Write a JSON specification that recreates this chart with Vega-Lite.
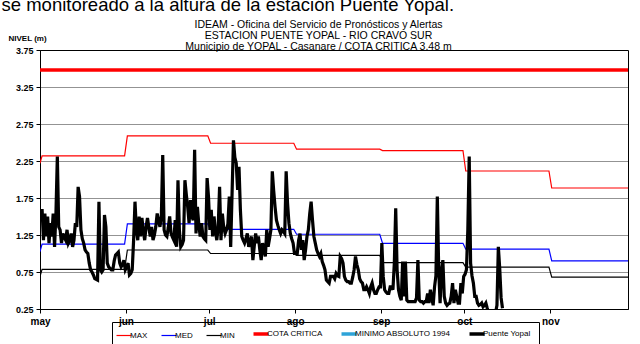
{
  "$schema": "https://vega.github.io/schema/vega-lite/v6.json",
  "autosize": "none",
  "width": 588,
  "height": 259,
  "padding": {"left": 40, "top": 50, "right": 12, "bottom": 35},
  "background": "white",
  "title": {
    "text": ["IDEAM - Oficina del Servicio de Pronósticos y Alertas", "ESTACION PUENTE YOPAL - RIO CRAVO SUR"],
    "subtitle": "Municipio de YOPAL - Casanare  /  COTA CRITICA 3.48 m",
    "fontSize": 10.5, "fontWeight": "normal", "subtitleFontSize": 10.5, "subtitleColor": "black",
    "lineHeight": 11, "subtitleLineHeight": 11, "subtitlePadding": 1,
    "anchor": "middle", "frame": "bounds", "offset": -57.5, "dx": 4, "color": "black"
  },
  "datasets": {
    "referencias": [
      {"fecha": "2011-05-01T00:00", "serie": "MAX", "nivel": 2.22},
      {"fecha": "2011-05-01T18:00", "serie": "MAX", "nivel": 2.32},
      {"fecha": "2011-05-31T12:00", "serie": "MAX", "nivel": 2.32},
      {"fecha": "2011-06-01T12:00", "serie": "MAX", "nivel": 2.59},
      {"fecha": "2011-06-30T12:00", "serie": "MAX", "nivel": 2.59},
      {"fecha": "2011-07-01T12:00", "serie": "MAX", "nivel": 2.49},
      {"fecha": "2011-07-31T12:00", "serie": "MAX", "nivel": 2.49},
      {"fecha": "2011-08-01T12:00", "serie": "MAX", "nivel": 2.41},
      {"fecha": "2011-08-31T12:00", "serie": "MAX", "nivel": 2.41},
      {"fecha": "2011-09-01T12:00", "serie": "MAX", "nivel": 2.39},
      {"fecha": "2011-09-30T12:00", "serie": "MAX", "nivel": 2.39},
      {"fecha": "2011-10-01T12:00", "serie": "MAX", "nivel": 2.115},
      {"fecha": "2011-10-31T12:00", "serie": "MAX", "nivel": 2.115},
      {"fecha": "2011-11-01T12:00", "serie": "MAX", "nivel": 1.885},
      {"fecha": "2011-11-29T00:00", "serie": "MAX", "nivel": 1.885},
      {"fecha": "2011-05-01T00:00", "serie": "MED", "nivel": 1.025},
      {"fecha": "2011-05-01T18:00", "serie": "MED", "nivel": 1.128},
      {"fecha": "2011-05-31T12:00", "serie": "MED", "nivel": 1.128},
      {"fecha": "2011-06-01T12:00", "serie": "MED", "nivel": 1.40},
      {"fecha": "2011-06-30T12:00", "serie": "MED", "nivel": 1.40},
      {"fecha": "2011-07-01T12:00", "serie": "MED", "nivel": 1.327},
      {"fecha": "2011-07-31T12:00", "serie": "MED", "nivel": 1.327},
      {"fecha": "2011-08-01T12:00", "serie": "MED", "nivel": 1.26},
      {"fecha": "2011-08-31T12:00", "serie": "MED", "nivel": 1.26},
      {"fecha": "2011-09-01T12:00", "serie": "MED", "nivel": 1.138},
      {"fecha": "2011-09-30T12:00", "serie": "MED", "nivel": 1.138},
      {"fecha": "2011-10-01T12:00", "serie": "MED", "nivel": 1.06},
      {"fecha": "2011-10-31T12:00", "serie": "MED", "nivel": 1.06},
      {"fecha": "2011-11-01T12:00", "serie": "MED", "nivel": 0.90},
      {"fecha": "2011-11-29T00:00", "serie": "MED", "nivel": 0.90},
      {"fecha": "2011-05-01T00:00", "serie": "MIN", "nivel": 0.69},
      {"fecha": "2011-05-01T18:00", "serie": "MIN", "nivel": 0.786},
      {"fecha": "2011-05-31T12:00", "serie": "MIN", "nivel": 0.786},
      {"fecha": "2011-06-01T12:00", "serie": "MIN", "nivel": 1.047},
      {"fecha": "2011-06-30T12:00", "serie": "MIN", "nivel": 1.047},
      {"fecha": "2011-07-01T12:00", "serie": "MIN", "nivel": 1.00},
      {"fecha": "2011-07-31T12:00", "serie": "MIN", "nivel": 1.00},
      {"fecha": "2011-08-01T12:00", "serie": "MIN", "nivel": 0.975},
      {"fecha": "2011-08-31T12:00", "serie": "MIN", "nivel": 0.975},
      {"fecha": "2011-09-01T12:00", "serie": "MIN", "nivel": 0.876},
      {"fecha": "2011-09-30T12:00", "serie": "MIN", "nivel": 0.876},
      {"fecha": "2011-10-01T12:00", "serie": "MIN", "nivel": 0.817},
      {"fecha": "2011-10-31T12:00", "serie": "MIN", "nivel": 0.817},
      {"fecha": "2011-11-01T12:00", "serie": "MIN", "nivel": 0.68},
      {"fecha": "2011-11-29T00:00", "serie": "MIN", "nivel": 0.68},
      {"fecha": "2011-05-01T00:00", "serie": "COTA CRITICA", "nivel": 3.48},
      {"fecha": "2011-11-29T00:00", "serie": "COTA CRITICA", "nivel": 3.48}
    ],
    "niveles": [
      {"fecha": "2011-05-01T06:00", "nivel": 1.45}, {"fecha": "2011-05-01T18:00", "nivel": 1.60},
      {"fecha": "2011-05-02T06:00", "nivel": 1.18}, {"fecha": "2011-05-02T18:00", "nivel": 1.54},
      {"fecha": "2011-05-03T06:00", "nivel": 1.23}, {"fecha": "2011-05-03T18:00", "nivel": 1.50},
      {"fecha": "2011-05-04T06:00", "nivel": 1.14}, {"fecha": "2011-05-04T18:00", "nivel": 1.41},
      {"fecha": "2011-05-05T06:00", "nivel": 1.23}, {"fecha": "2011-05-05T18:00", "nivel": 1.54},
      {"fecha": "2011-05-06T06:00", "nivel": 1.09}, {"fecha": "2011-05-06T18:00", "nivel": 1.54},
      {"fecha": "2011-05-07T06:00", "nivel": 2.31}, {"fecha": "2011-05-07T18:00", "nivel": 1.36},
      {"fecha": "2011-05-08T06:00", "nivel": 1.32}, {"fecha": "2011-05-08T18:00", "nivel": 1.14},
      {"fecha": "2011-05-09T06:00", "nivel": 1.27}, {"fecha": "2011-05-09T18:00", "nivel": 1.22},
      {"fecha": "2011-05-10T06:00", "nivel": 1.18}, {"fecha": "2011-05-10T18:00", "nivel": 1.32},
      {"fecha": "2011-05-11T06:00", "nivel": 1.14}, {"fecha": "2011-05-11T18:00", "nivel": 1.18},
      {"fecha": "2011-05-12T06:00", "nivel": 1.27}, {"fecha": "2011-05-12T18:00", "nivel": 1.09},
      {"fecha": "2011-05-13T06:00", "nivel": 1.18}, {"fecha": "2011-05-13T18:00", "nivel": 1.41},
      {"fecha": "2011-05-14T06:00", "nivel": 1.36}, {"fecha": "2011-05-14T18:00", "nivel": 1.90},
      {"fecha": "2011-05-15T06:00", "nivel": 1.77}, {"fecha": "2011-05-15T18:00", "nivel": 1.32},
      {"fecha": "2011-05-16T06:00", "nivel": 1.20}, {"fecha": "2011-05-16T18:00", "nivel": 1.14},
      {"fecha": "2011-05-17T06:00", "nivel": 1.05}, {"fecha": "2011-05-17T18:00", "nivel": 1.02},
      {"fecha": "2011-05-18T06:00", "nivel": 1.00}, {"fecha": "2011-05-18T18:00", "nivel": 0.87},
      {"fecha": "2011-05-19T06:00", "nivel": 0.78}, {"fecha": "2011-05-19T18:00", "nivel": 0.75},
      {"fecha": "2011-05-20T06:00", "nivel": 0.71}, {"fecha": "2011-05-20T18:00", "nivel": 0.66},
      {"fecha": "2011-05-21T06:00", "nivel": 0.65}, {"fecha": "2011-05-21T18:00", "nivel": 0.64},
      {"fecha": "2011-05-22T06:00", "nivel": 1.70}, {"fecha": "2011-05-22T18:00", "nivel": 0.78},
      {"fecha": "2011-05-23T06:00", "nivel": 0.75}, {"fecha": "2011-05-23T18:00", "nivel": 0.78},
      {"fecha": "2011-05-24T06:00", "nivel": 1.52}, {"fecha": "2011-05-24T18:00", "nivel": 1.36},
      {"fecha": "2011-05-25T06:00", "nivel": 0.87}, {"fecha": "2011-05-25T18:00", "nivel": 0.82},
      {"fecha": "2011-05-26T06:00", "nivel": 0.80}, {"fecha": "2011-05-26T18:00", "nivel": 0.78},
      {"fecha": "2011-05-27T06:00", "nivel": 0.78}, {"fecha": "2011-05-27T18:00", "nivel": 0.90},
      {"fecha": "2011-05-28T06:00", "nivel": 0.98}, {"fecha": "2011-05-28T18:00", "nivel": 1.00},
      {"fecha": "2011-05-29T06:00", "nivel": 1.02}, {"fecha": "2011-05-29T18:00", "nivel": 0.87},
      {"fecha": "2011-05-30T06:00", "nivel": 0.82}, {"fecha": "2011-05-30T18:00", "nivel": 0.85},
      {"fecha": "2011-05-31T06:00", "nivel": 0.91}, {"fecha": "2011-05-31T18:00", "nivel": 0.78},
      {"fecha": "2011-06-01T06:00", "nivel": 0.82}, {"fecha": "2011-06-01T18:00", "nivel": 0.87},
      {"fecha": "2011-06-02T06:00", "nivel": 0.71}, {"fecha": "2011-06-02T18:00", "nivel": 0.73},
      {"fecha": "2011-06-03T06:00", "nivel": 0.78}, {"fecha": "2011-06-03T18:00", "nivel": 1.18},
      {"fecha": "2011-06-04T06:00", "nivel": 1.70}, {"fecha": "2011-06-04T18:00", "nivel": 1.32},
      {"fecha": "2011-06-05T06:00", "nivel": 1.18}, {"fecha": "2011-06-05T18:00", "nivel": 1.50},
      {"fecha": "2011-06-06T06:00", "nivel": 1.23}, {"fecha": "2011-06-06T18:00", "nivel": 1.48},
      {"fecha": "2011-06-07T06:00", "nivel": 1.30}, {"fecha": "2011-06-07T18:00", "nivel": 1.18},
      {"fecha": "2011-06-08T06:00", "nivel": 1.36}, {"fecha": "2011-06-08T18:00", "nivel": 1.48},
      {"fecha": "2011-06-09T06:00", "nivel": 1.35}, {"fecha": "2011-06-09T18:00", "nivel": 1.23},
      {"fecha": "2011-06-10T06:00", "nivel": 1.36}, {"fecha": "2011-06-10T18:00", "nivel": 1.18},
      {"fecha": "2011-06-11T06:00", "nivel": 1.25}, {"fecha": "2011-06-11T18:00", "nivel": 1.36},
      {"fecha": "2011-06-12T06:00", "nivel": 1.54}, {"fecha": "2011-06-12T18:00", "nivel": 1.45},
      {"fecha": "2011-06-13T06:00", "nivel": 1.36}, {"fecha": "2011-06-13T18:00", "nivel": 1.50},
      {"fecha": "2011-06-14T06:00", "nivel": 2.33}, {"fecha": "2011-06-14T18:00", "nivel": 1.32},
      {"fecha": "2011-06-15T06:00", "nivel": 1.25}, {"fecha": "2011-06-15T18:00", "nivel": 1.23},
      {"fecha": "2011-06-16T06:00", "nivel": 1.35}, {"fecha": "2011-06-16T18:00", "nivel": 1.50},
      {"fecha": "2011-06-17T06:00", "nivel": 1.27}, {"fecha": "2011-06-17T18:00", "nivel": 1.22},
      {"fecha": "2011-06-18T06:00", "nivel": 1.18}, {"fecha": "2011-06-18T18:00", "nivel": 1.45},
      {"fecha": "2011-06-19T06:00", "nivel": 1.09}, {"fecha": "2011-06-19T18:00", "nivel": 1.99},
      {"fecha": "2011-06-20T06:00", "nivel": 1.32}, {"fecha": "2011-06-20T18:00", "nivel": 1.09},
      {"fecha": "2011-06-21T06:00", "nivel": 1.12}, {"fecha": "2011-06-21T18:00", "nivel": 1.18},
      {"fecha": "2011-06-22T06:00", "nivel": 1.99}, {"fecha": "2011-06-22T18:00", "nivel": 1.80},
      {"fecha": "2011-06-23T06:00", "nivel": 1.63}, {"fecha": "2011-06-23T18:00", "nivel": 1.41},
      {"fecha": "2011-06-24T06:00", "nivel": 1.72}, {"fecha": "2011-06-24T18:00", "nivel": 1.50},
      {"fecha": "2011-06-25T06:00", "nivel": 1.45}, {"fecha": "2011-06-25T18:00", "nivel": 2.40},
      {"fecha": "2011-06-26T06:00", "nivel": 1.27}, {"fecha": "2011-06-26T18:00", "nivel": 1.63},
      {"fecha": "2011-06-27T06:00", "nivel": 1.40}, {"fecha": "2011-06-27T18:00", "nivel": 1.23},
      {"fecha": "2011-06-28T06:00", "nivel": 1.41}, {"fecha": "2011-06-28T18:00", "nivel": 1.23},
      {"fecha": "2011-06-29T06:00", "nivel": 1.20}, {"fecha": "2011-06-29T18:00", "nivel": 1.18},
      {"fecha": "2011-06-30T06:00", "nivel": 2.02}, {"fecha": "2011-06-30T18:00", "nivel": 1.77},
      {"fecha": "2011-07-01T06:00", "nivel": 1.32}, {"fecha": "2011-07-01T18:00", "nivel": 1.59},
      {"fecha": "2011-07-02T06:00", "nivel": 1.23}, {"fecha": "2011-07-02T18:00", "nivel": 1.50},
      {"fecha": "2011-07-03T06:00", "nivel": 1.30}, {"fecha": "2011-07-03T18:00", "nivel": 1.18},
      {"fecha": "2011-07-04T06:00", "nivel": 1.36}, {"fecha": "2011-07-04T18:00", "nivel": 1.90},
      {"fecha": "2011-07-05T06:00", "nivel": 1.18}, {"fecha": "2011-07-05T18:00", "nivel": 1.54},
      {"fecha": "2011-07-06T06:00", "nivel": 1.35}, {"fecha": "2011-07-06T18:00", "nivel": 1.27},
      {"fecha": "2011-07-07T06:00", "nivel": 1.32}, {"fecha": "2011-07-07T18:00", "nivel": 1.40},
      {"fecha": "2011-07-08T06:00", "nivel": 1.77}, {"fecha": "2011-07-08T18:00", "nivel": 1.09},
      {"fecha": "2011-07-09T06:00", "nivel": 1.81}, {"fecha": "2011-07-09T18:00", "nivel": 2.53},
      {"fecha": "2011-07-10T06:00", "nivel": 2.30}, {"fecha": "2011-07-10T18:00", "nivel": 2.22},
      {"fecha": "2011-07-11T06:00", "nivel": 1.86}, {"fecha": "2011-07-11T18:00", "nivel": 2.17},
      {"fecha": "2011-07-12T06:00", "nivel": 1.59}, {"fecha": "2011-07-12T18:00", "nivel": 1.23},
      {"fecha": "2011-07-13T06:00", "nivel": 1.18}, {"fecha": "2011-07-13T18:00", "nivel": 1.14},
      {"fecha": "2011-07-14T06:00", "nivel": 1.20}, {"fecha": "2011-07-14T18:00", "nivel": 1.27},
      {"fecha": "2011-07-15T06:00", "nivel": 1.09}, {"fecha": "2011-07-15T18:00", "nivel": 1.15},
      {"fecha": "2011-07-16T06:00", "nivel": 1.23}, {"fecha": "2011-07-16T18:00", "nivel": 0.91},
      {"fecha": "2011-07-17T06:00", "nivel": 1.10}, {"fecha": "2011-07-17T18:00", "nivel": 1.27},
      {"fecha": "2011-07-18T06:00", "nivel": 1.14}, {"fecha": "2011-07-18T18:00", "nivel": 1.23},
      {"fecha": "2011-07-19T06:00", "nivel": 1.05}, {"fecha": "2011-07-19T18:00", "nivel": 0.91},
      {"fecha": "2011-07-20T06:00", "nivel": 1.14}, {"fecha": "2011-07-20T18:00", "nivel": 1.05},
      {"fecha": "2011-07-21T06:00", "nivel": 0.96}, {"fecha": "2011-07-21T18:00", "nivel": 1.32},
      {"fecha": "2011-07-22T06:00", "nivel": 1.09}, {"fecha": "2011-07-22T18:00", "nivel": 1.20},
      {"fecha": "2011-07-23T06:00", "nivel": 1.32}, {"fecha": "2011-07-23T18:00", "nivel": 2.11},
      {"fecha": "2011-07-24T06:00", "nivel": 1.85}, {"fecha": "2011-07-24T18:00", "nivel": 1.63},
      {"fecha": "2011-07-25T06:00", "nivel": 1.45}, {"fecha": "2011-07-25T18:00", "nivel": 1.38},
      {"fecha": "2011-07-26T06:00", "nivel": 1.32}, {"fecha": "2011-07-26T18:00", "nivel": 1.27},
      {"fecha": "2011-07-27T06:00", "nivel": 1.32}, {"fecha": "2011-07-27T18:00", "nivel": 1.30},
      {"fecha": "2011-07-28T06:00", "nivel": 1.27}, {"fecha": "2011-07-28T18:00", "nivel": 2.11},
      {"fecha": "2011-07-29T06:00", "nivel": 1.68}, {"fecha": "2011-07-29T18:00", "nivel": 1.41},
      {"fecha": "2011-07-30T06:00", "nivel": 1.27}, {"fecha": "2011-07-30T18:00", "nivel": 1.20},
      {"fecha": "2011-07-31T06:00", "nivel": 1.14}, {"fecha": "2011-07-31T18:00", "nivel": 1.00},
      {"fecha": "2011-08-01T06:00", "nivel": 1.00}, {"fecha": "2011-08-01T18:00", "nivel": 1.00},
      {"fecha": "2011-08-02T06:00", "nivel": 1.18}, {"fecha": "2011-08-02T18:00", "nivel": 1.27},
      {"fecha": "2011-08-03T06:00", "nivel": 1.05}, {"fecha": "2011-08-03T18:00", "nivel": 1.18},
      {"fecha": "2011-08-04T06:00", "nivel": 0.91}, {"fecha": "2011-08-04T18:00", "nivel": 1.05},
      {"fecha": "2011-08-05T06:00", "nivel": 1.23}, {"fecha": "2011-08-05T18:00", "nivel": 1.32},
      {"fecha": "2011-08-06T06:00", "nivel": 1.54}, {"fecha": "2011-08-06T18:00", "nivel": 1.70},
      {"fecha": "2011-08-07T06:00", "nivel": 1.45}, {"fecha": "2011-08-07T18:00", "nivel": 1.23},
      {"fecha": "2011-08-08T06:00", "nivel": 1.14}, {"fecha": "2011-08-08T18:00", "nivel": 1.05},
      {"fecha": "2011-08-09T06:00", "nivel": 1.00}, {"fecha": "2011-08-09T18:00", "nivel": 0.96},
      {"fecha": "2011-08-10T06:00", "nivel": 1.00}, {"fecha": "2011-08-10T18:00", "nivel": 0.89},
      {"fecha": "2011-08-11T06:00", "nivel": 0.84}, {"fecha": "2011-08-11T18:00", "nivel": 0.78},
      {"fecha": "2011-08-12T06:00", "nivel": 0.64}, {"fecha": "2011-08-12T18:00", "nivel": 0.62},
      {"fecha": "2011-08-13T06:00", "nivel": 0.60}, {"fecha": "2011-08-13T18:00", "nivel": 0.69},
      {"fecha": "2011-08-14T06:00", "nivel": 0.69}, {"fecha": "2011-08-14T18:00", "nivel": 0.69},
      {"fecha": "2011-08-15T06:00", "nivel": 0.66}, {"fecha": "2011-08-15T18:00", "nivel": 0.73},
      {"fecha": "2011-08-16T06:00", "nivel": 0.70}, {"fecha": "2011-08-16T18:00", "nivel": 0.69},
      {"fecha": "2011-08-17T06:00", "nivel": 0.96}, {"fecha": "2011-08-17T18:00", "nivel": 0.93},
      {"fecha": "2011-08-18T06:00", "nivel": 0.87}, {"fecha": "2011-08-18T18:00", "nivel": 0.69},
      {"fecha": "2011-08-19T06:00", "nivel": 0.64}, {"fecha": "2011-08-19T18:00", "nivel": 0.62},
      {"fecha": "2011-08-20T06:00", "nivel": 0.62}, {"fecha": "2011-08-20T18:00", "nivel": 0.60},
      {"fecha": "2011-08-21T06:00", "nivel": 0.60}, {"fecha": "2011-08-21T18:00", "nivel": 0.68},
      {"fecha": "2011-08-22T06:00", "nivel": 0.78}, {"fecha": "2011-08-22T18:00", "nivel": 0.96},
      {"fecha": "2011-08-23T06:00", "nivel": 0.85}, {"fecha": "2011-08-23T18:00", "nivel": 0.78},
      {"fecha": "2011-08-24T06:00", "nivel": 0.66}, {"fecha": "2011-08-24T18:00", "nivel": 0.62},
      {"fecha": "2011-08-25T06:00", "nivel": 0.60}, {"fecha": "2011-08-25T18:00", "nivel": 0.51},
      {"fecha": "2011-08-26T06:00", "nivel": 0.51}, {"fecha": "2011-08-26T18:00", "nivel": 0.55},
      {"fecha": "2011-08-27T06:00", "nivel": 0.51}, {"fecha": "2011-08-27T18:00", "nivel": 0.46},
      {"fecha": "2011-08-28T06:00", "nivel": 0.55}, {"fecha": "2011-08-28T18:00", "nivel": 0.60},
      {"fecha": "2011-08-29T06:00", "nivel": 0.51}, {"fecha": "2011-08-29T18:00", "nivel": 0.46},
      {"fecha": "2011-08-30T06:00", "nivel": 0.46}, {"fecha": "2011-08-30T18:00", "nivel": 0.51},
      {"fecha": "2011-08-31T06:00", "nivel": 0.55}, {"fecha": "2011-08-31T18:00", "nivel": 0.55},
      {"fecha": "2011-09-01T06:00", "nivel": 1.14}, {"fecha": "2011-09-01T18:00", "nivel": 0.69},
      {"fecha": "2011-09-02T06:00", "nivel": 0.51}, {"fecha": "2011-09-02T18:00", "nivel": 0.48},
      {"fecha": "2011-09-03T06:00", "nivel": 0.46}, {"fecha": "2011-09-03T18:00", "nivel": 0.46},
      {"fecha": "2011-09-04T06:00", "nivel": 0.55}, {"fecha": "2011-09-04T18:00", "nivel": 0.55},
      {"fecha": "2011-09-05T06:00", "nivel": 0.51}, {"fecha": "2011-09-05T18:00", "nivel": 0.87},
      {"fecha": "2011-09-06T06:00", "nivel": 1.61}, {"fecha": "2011-09-06T18:00", "nivel": 0.78},
      {"fecha": "2011-09-07T06:00", "nivel": 0.51}, {"fecha": "2011-09-07T18:00", "nivel": 0.42},
      {"fecha": "2011-09-08T06:00", "nivel": 0.37}, {"fecha": "2011-09-08T18:00", "nivel": 0.89},
      {"fecha": "2011-09-09T06:00", "nivel": 0.42}, {"fecha": "2011-09-09T18:00", "nivel": 0.89},
      {"fecha": "2011-09-10T06:00", "nivel": 0.37}, {"fecha": "2011-09-10T18:00", "nivel": 0.35},
      {"fecha": "2011-09-11T06:00", "nivel": 0.35}, {"fecha": "2011-09-11T18:00", "nivel": 0.35},
      {"fecha": "2011-09-12T06:00", "nivel": 0.35}, {"fecha": "2011-09-12T18:00", "nivel": 0.35},
      {"fecha": "2011-09-13T06:00", "nivel": 0.35}, {"fecha": "2011-09-13T18:00", "nivel": 0.40},
      {"fecha": "2011-09-14T06:00", "nivel": 0.91}, {"fecha": "2011-09-14T18:00", "nivel": 0.37},
      {"fecha": "2011-09-15T06:00", "nivel": 0.35}, {"fecha": "2011-09-15T18:00", "nivel": 0.35},
      {"fecha": "2011-09-16T06:00", "nivel": 0.33}, {"fecha": "2011-09-16T18:00", "nivel": 0.35},
      {"fecha": "2011-09-17T06:00", "nivel": 0.35}, {"fecha": "2011-09-17T18:00", "nivel": 0.46},
      {"fecha": "2011-09-18T06:00", "nivel": 0.33}, {"fecha": "2011-09-18T18:00", "nivel": 0.51},
      {"fecha": "2011-09-19T06:00", "nivel": 0.40}, {"fecha": "2011-09-19T18:00", "nivel": 0.30},
      {"fecha": "2011-09-20T06:00", "nivel": 0.55}, {"fecha": "2011-09-20T18:00", "nivel": 0.70},
      {"fecha": "2011-09-21T06:00", "nivel": 1.77}, {"fecha": "2011-09-21T18:00", "nivel": 0.78},
      {"fecha": "2011-09-22T06:00", "nivel": 0.33}, {"fecha": "2011-09-22T18:00", "nivel": 0.78},
      {"fecha": "2011-09-23T06:00", "nivel": 0.91}, {"fecha": "2011-09-23T18:00", "nivel": 0.42},
      {"fecha": "2011-09-24T06:00", "nivel": 0.33}, {"fecha": "2011-09-24T18:00", "nivel": 0.30},
      {"fecha": "2011-09-25T06:00", "nivel": 0.32}, {"fecha": "2011-09-25T18:00", "nivel": 0.33},
      {"fecha": "2011-09-26T06:00", "nivel": 0.42}, {"fecha": "2011-09-26T18:00", "nivel": 0.60},
      {"fecha": "2011-09-27T06:00", "nivel": 0.33}, {"fecha": "2011-09-27T18:00", "nivel": 0.51},
      {"fecha": "2011-09-28T06:00", "nivel": 0.42}, {"fecha": "2011-09-28T18:00", "nivel": 0.33},
      {"fecha": "2011-09-29T06:00", "nivel": 0.33}, {"fecha": "2011-09-29T18:00", "nivel": 0.60},
      {"fecha": "2011-09-30T06:00", "nivel": 0.46}, {"fecha": "2011-09-30T18:00", "nivel": 0.69},
      {"fecha": "2011-10-01T06:00", "nivel": 0.72}, {"fecha": "2011-10-01T18:00", "nivel": 0.78},
      {"fecha": "2011-10-02T06:00", "nivel": 1.32}, {"fecha": "2011-10-02T18:00", "nivel": 2.31},
      {"fecha": "2011-10-03T06:00", "nivel": 0.87}, {"fecha": "2011-10-03T18:00", "nivel": 0.70},
      {"fecha": "2011-10-04T06:00", "nivel": 0.60}, {"fecha": "2011-10-04T18:00", "nivel": 0.42},
      {"fecha": "2011-10-05T06:00", "nivel": 0.42}, {"fecha": "2011-10-05T18:00", "nivel": 0.33},
      {"fecha": "2011-10-06T06:00", "nivel": 0.30}, {"fecha": "2011-10-06T18:00", "nivel": 0.31},
      {"fecha": "2011-10-07T06:00", "nivel": 0.33}, {"fecha": "2011-10-07T18:00", "nivel": 0.28},
      {"fecha": "2011-10-08T06:00", "nivel": 0.30}, {"fecha": "2011-10-08T18:00", "nivel": 0.33},
      {"fecha": "2011-10-09T06:00", "nivel": 0.26}, {"fecha": "2011-10-09T18:00", "nivel": 0.20},
      {"fecha": "2011-10-10T06:00", "nivel": 0.20}, {"fecha": "2011-10-10T18:00", "nivel": 0.20},
      {"fecha": "2011-10-11T06:00", "nivel": 0.20}, {"fecha": "2011-10-11T18:00", "nivel": 0.20},
      {"fecha": "2011-10-12T06:00", "nivel": 0.20}, {"fecha": "2011-10-12T18:00", "nivel": 0.30},
      {"fecha": "2011-10-13T06:00", "nivel": 1.09}, {"fecha": "2011-10-13T18:00", "nivel": 0.80},
      {"fecha": "2011-10-14T06:00", "nivel": 0.40}, {"fecha": "2011-10-14T18:00", "nivel": 0.26}
    ]
  },
  "encoding": {
    "x": {
      "field": "fecha", "type": "temporal",
      "scale": {"domain": [{"year": 2011, "month": 5, "date": 1}, {"year": 2011, "month": 11, "date": 29}]},
      "axis": {
        "values": [
          {"year": 2011, "month": 5, "date": 1}, {"year": 2011, "month": 6, "date": 1},
          {"year": 2011, "month": 7, "date": 1}, {"year": 2011, "month": 8, "date": 1},
          {"year": 2011, "month": 9, "date": 1}, {"year": 2011, "month": 10, "date": 1},
          {"year": 2011, "month": 11, "date": 1}
        ],
        "labelExpr": "['ene','feb','mar','abr','may','jun','jul','ago','sep','oct','nov','dic'][month(datum.value)]",
        "labelFontSize": 10, "labelFontWeight": "bold", "labelPadding": 3, "labelFlush": false,
        "tickSize": 4, "grid": false,
        "title": "se monitoreado a la altura de la estación Puente Yopal.",
        "titleFontSize": 18.5, "titleFontWeight": "normal", "titleAlign": "left", "titleAnchor": "start",
        "titleBaseline": "alphabetic", "titleX": -39, "titleY": -299
      }
    },
    "y": {
      "field": "nivel", "type": "quantitative",
      "scale": {"domain": [0.25, 3.75], "nice": false, "zero": false},
      "axis": {
        "values": [0.25, 0.75, 1.25, 1.75, 2.25, 2.75, 3.25, 3.75],
        "format": ".2f",
        "labelFontSize": 9, "labelFontWeight": "bold", "labelPadding": 3, "tickSize": 4,
        "grid": true, "gridColor": "black", "gridDash": [1, 1], "gridOpacity": 0.85,
        "title": "NIVEL (m)", "titleAngle": 0, "titleAlign": "left", "titleBaseline": "middle",
        "titleFontSize": 8, "titleFontWeight": "bold", "titleX": -32, "titleY": -12
      }
    },
    "color": {
      "field": "serie", "type": "nominal",
      "scale": {
        "domain": ["MAX", "MED", "MIN", "COTA CRITICA", "MINIMO ABSOLUTO 1994", "Puente Yopal"],
        "range": ["#ff0000", "#0000ff", "#000000", "#ff0000", "#2ea3d8", "#000000"]
      },
      "legend": {
        "orient": "none", "legendX": 72, "legendY": 272, "direction": "horizontal", "title": null,
        "encode": {"symbols": {"update": {"strokeWidth": {"signal": "indexof(['COTA CRITICA','MINIMO ABSOLUTO 1994','Puente Yopal'], datum.value) >= 0 ? 3.5 : 1.2"}}}}
      }
    }
  },
  "layer": [
    {
      "data": {"name": "referencias"},
      "transform": [{"filter": {"field": "serie", "oneOf": ["MAX", "MED", "MIN"]}}],
      "mark": {"type": "line", "clip": true, "strokeWidth": 1.2}
    },
    {
      "data": {"name": "referencias"},
      "transform": [{"filter": {"field": "serie", "equal": "COTA CRITICA"}}],
      "mark": {"type": "line", "clip": true, "strokeWidth": 3.5}
    },
    {
      "data": {"name": "niveles"},
      "mark": {"type": "line", "clip": true, "strokeWidth": 3.2, "strokeJoin": "miter"},
      "encoding": {"color": {"datum": "Puente Yopal", "type": "nominal"}}
    }
  ],
  "config": {
    "font": "Liberation Sans",
    "view": {"stroke": "black", "strokeWidth": 1},
    "axis": {"domainColor": "black", "tickColor": "black", "labelColor": "black", "titleColor": "black", "domainWidth": 1},
    "legend": {
      "strokeColor": "black", "padding": 8, "labelFontSize": 8, "labelColor": "black",
      "symbolType": "stroke", "symbolSize": 225, "labelOffset": 2, "columnPadding": 11
    }
  }
}
